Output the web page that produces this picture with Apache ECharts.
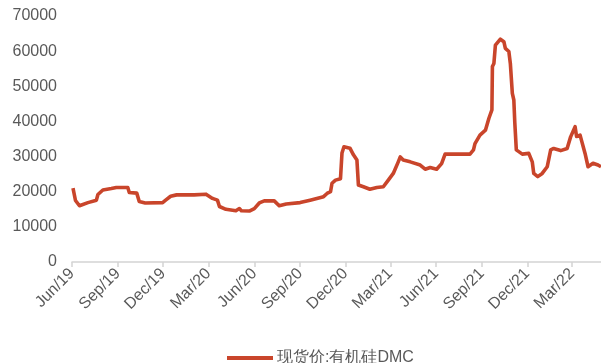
<!DOCTYPE html>
<html>
<head>
<meta charset="utf-8">
<script src="https://cdn.jsdelivr.net/npm/echarts@6/dist/echarts.min.js"></script>
<style>
  html, body { margin: 0; padding: 0; background: #fff; }
  #chart { width: 601px; height: 363px; }
</style>
</head>
<body>
<div id="chart"></div>
<script>
// Spot price of silicone DMC (yuan/ton)
const seriesName = '现货价:有机硅DMC';

const dates = [
  '2019-06-03','2019-06-08','2019-06-16','2019-07-03','2019-07-20','2019-07-23','2019-08-02','2019-08-19',
  '2019-08-29','2019-09-21','2019-09-24','2019-10-09','2019-10-14','2019-10-26','2019-11-30','2019-12-06',
  '2019-12-16','2019-12-28','2020-02-01','2020-02-05','2020-02-25','2020-03-09','2020-03-19','2020-03-23',
  '2020-04-05','2020-04-25','2020-05-02','2020-05-06','2020-05-22','2020-06-01','2020-06-11','2020-06-21',
  '2020-07-11','2020-07-21','2020-08-04','2020-09-01','2020-09-21','2020-10-18','2020-10-25','2020-11-01',
  '2020-11-04','2020-11-11','2020-11-21','2020-11-24','2020-11-28','2020-12-02','2020-12-10','2020-12-17',
  '2020-12-24','2020-12-27','2021-01-06','2021-01-19','2021-02-02','2021-02-15','2021-02-25','2021-03-07',
  '2021-03-17','2021-03-21','2021-03-27','2021-04-10','2021-04-30','2021-05-10','2021-05-20','2021-06-02',
  '2021-06-12','2021-06-19','2021-08-08','2021-08-15','2021-08-18','2021-08-28','2021-09-08','2021-09-15',
  '2021-09-21','2021-09-22','2021-09-25','2021-09-28','2021-10-08','2021-10-15','2021-10-18','2021-10-25',
  '2021-10-28','2021-11-01','2021-11-04','2021-11-06','2021-11-09','2021-11-21','2021-12-04','2021-12-11',
  '2021-12-14','2021-12-22','2021-12-31','2022-01-10','2022-01-17','2022-01-23','2022-02-06','2022-02-19',
  '2022-02-26','2022-03-07','2022-03-10','2022-03-17','2022-03-27','2022-04-02','2022-04-12','2022-04-22',
  '2022-04-28'
];

const prices = [
  21000,17500,16000,16900,17600,19200,20500,20900,
  21200,21200,19800,19600,17200,16800,16900,17600,
  18700,19100,19100,19300,19300,18100,17600,15800,
  15000,14600,15200,14600,14500,15200,16800,17400,
  17400,16000,16500,16900,17600,18600,19500,20000,
  22400,23300,23700,31000,32800,33300,32400,30500,
  29000,21900,21400,20700,21200,21400,23300,25200,
  28500,29900,29000,28500,27600,26400,26900,26400,
  28000,30700,30700,31900,33700,36100,37500,40900,
  43300,55600,56500,61700,63400,62700,60800,59900,
  56500,48000,46100,39500,31900,30700,30900,28500,
  25200,24300,25200,27100,31900,32300,31700,32300,
  35600,38500,35700,36100,30900,27100,28100,27600,
  27100
];

// Quarterly tick dates along the date axis
const tickDates = [
  '2019-06-01','2019-09-01','2019-12-01','2020-03-01','2020-06-01','2020-09-01',
  '2020-12-01','2021-03-01','2021-06-01','2021-09-01','2021-12-01','2022-03-01'
];
const monthNames = ['Jan','Feb','Mar','Apr','May','Jun','Jul','Aug','Sep','Oct','Nov','Dec'];

const yTicks = [0, 10000, 20000, 30000, 40000, 50000, 60000, 70000];

function toTime(s) {
  const p = s.split('-').map(Number);
  return Date.UTC(p[0], p[1] - 1, p[2]);
}

const lineData = dates.map((d, i) => [toTime(d), prices[i]]);
const tickTimes = tickDates.map(toTime);

const chart = echarts.init(document.getElementById('chart'), null, { renderer: 'canvas' });

const font = 'Liberation Sans, Arial, sans-serif';
const textColor = '#595959';

chart.setOption({
  animation: false,
  backgroundColor: '#ffffff',
  grid: { left: 72, right: 0, top: 16, bottom: 101, containLabel: false },
  legend: {
    data: [seriesName],
    left: 227,
    top: 350,
    padding: 0,
    icon: 'rect',
    itemWidth: 46,
    itemHeight: 4,
    itemGap: 4,
    textStyle: { fontFamily: font, fontSize: 16, color: textColor, padding: [0, 0, 0, -1] }
  },
  xAxis: {
    type: 'value',
    min: toTime('2019-06-01'),
    max: toTime('2022-04-28'),
    splitLine: { show: false },
    axisLine: { show: true, lineStyle: { color: '#d4d4d4', width: 1.5 } },
    axisTick: { show: true, length: 5, customValues: tickTimes, lineStyle: { color: '#d4d4d4', width: 1.5 } },
    axisLabel: {
      customValues: tickTimes,
      rotate: 45,
      margin: 9,
      fontFamily: font,
      fontSize: 16,
      color: textColor,
      formatter: function (v) {
        const d = new Date(v);
        return monthNames[d.getUTCMonth()] + '/' + String(d.getUTCFullYear()).slice(2);
      }
    }
  },
  yAxis: {
    type: 'value',
    min: yTicks[0],
    max: yTicks[yTicks.length - 1],
    interval: 10000,
    splitLine: { show: false },
    axisLine: { show: false },
    axisTick: { show: false },
    axisLabel: {
      margin: 15, fontFamily: font, fontSize: 16, color: textColor,
      formatter: function (v) { return String(v); }
    }
  },
  series: [{
    name: seriesName,
    type: 'line',
    data: lineData,
    showSymbol: false,
    symbol: 'none',
    lineStyle: { color: '#C9452B', width: 3.6, join: 'round' },
    itemStyle: { color: '#C9452B' }
  }]
});
</script>
</body>
</html>
